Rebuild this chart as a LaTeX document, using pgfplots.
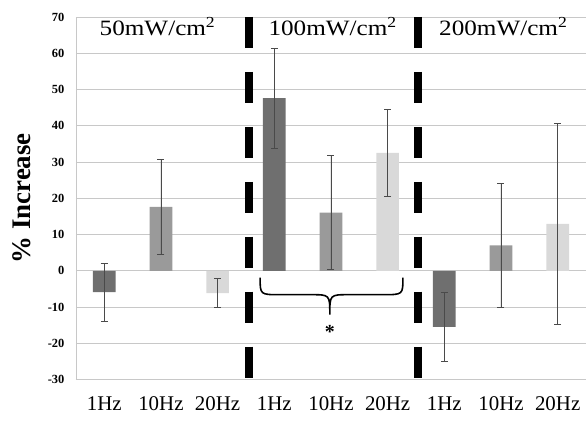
\documentclass[border=0pt]{standalone}
\usepackage{pgfplots}
\pgfplotsset{compat=1.18}
\usepackage{fontspec}
\setmainfont{Liberation Serif}
\newfontfamily\titlefont[FakeStretch=1.15]{Liberation Serif}

\definecolor{barA}{HTML}{6F6F6F}
\definecolor{barB}{HTML}{9A9A9A}
\definecolor{barC}{HTML}{D9D9D9}
\definecolor{errc}{HTML}{4A4A4A}
\definecolor{gridc}{HTML}{C8C8C8}

\begin{document}
\begin{tikzpicture}
\path[use as bounding box] (-76bp,-41bp) rectangle (510.75bp,380bp);
\begin{axis}[
	scale only axis,
	width=510.75bp, height=363bp,
	xmin=-0.5, xmax=8.5,
	ymin=-30, ymax=70,
	axis x line*=bottom, axis y line*=left,
	axis line style={gridc, line width=0.8pt},
	ymajorgrids, major grid style={gridc, line width=0.8pt},
	major tick length=0pt,
	xtick={0,...,8},
	xticklabels={1Hz,10Hz,20Hz,1Hz,10Hz,20Hz,1Hz,10Hz,20Hz},
	xticklabel style={font=\fontsize{21}{21}\selectfont, yshift=-14bp},
	ytick={-30,-20,...,70},
	yticklabels={-30,-20,-10,0,10,20,30,40,50,60,70},
	yticklabel style={font=\bfseries\fontsize{12.5}{12.5}\selectfont, xshift=-8bp},
	ylabel={\% Increase},
	ylabel style={at={(axis description cs:-0.106,0.5)}, anchor=center, rotate=0,
		font=\bfseries\fontsize{27}{27}\selectfont},
	ybar, bar width=0.4, bar shift=0pt,
	clip=false,
]
% 1 Hz
\addplot[fill=barA, draw=none,
	error bars/.cd, y dir=both, y explicit,
	error bar style={errc, line width=0.7pt},
	error mark options={rotate=90, mark size=3.5bp, errc, line width=0.7pt}]
	coordinates {(0,-5.9) +- (0,8) (3,47.6) +- (0,13.75) (6,-15.5) +- (0,9.5)};
% 10 Hz
\addplot[fill=barB, draw=none,
	error bars/.cd, y dir=both, y explicit,
	error bar style={errc, line width=0.7pt},
	error mark options={rotate=90, mark size=3.5bp, errc, line width=0.7pt}]
	coordinates {(1,17.6) +- (0,13.1) (4,16) +- (0,15.7) (7,7) +- (0,17)};
% 20 Hz
\addplot[fill=barC, draw=none,
	error bars/.cd, y dir=both, y explicit,
	error bar style={errc, line width=0.7pt},
	error mark options={rotate=90, mark size=3.5bp, errc, line width=0.7pt}]
	coordinates {(2,-6.2) +- (0,4) (5,32.5) +- (0,12.1) (8,12.9) +- (0,27.8)};

% group separators
\draw[black, line width=8bp, dash pattern=on 31bp off 24bp] (axis cs:2.55,70) -- (axis cs:2.55,-30);
\draw[black, line width=8bp, dash pattern=on 31bp off 24bp] (axis cs:5.54,70) -- (axis cs:5.54,-30);

% group titles
\node[anchor=base, font=\titlefont\fontsize{22}{22}\selectfont] at (axis cs:0.94,65) {50mW/cm\textsuperscript{2}};
\node[anchor=base, font=\titlefont\fontsize{22}{22}\selectfont] at (axis cs:4.03,65) {100mW/cm\textsuperscript{2}};
\node[anchor=base, font=\titlefont\fontsize{22}{22}\selectfont] at (axis cs:7.04,65) {200mW/cm\textsuperscript{2}};

% brace and significance mark
\draw[black, line width=1.6pt]
	(axis cs:2.75,-1.9) .. controls (axis cs:2.75,-6.6) .. (axis cs:3.1,-6.6)
	-- (axis cs:3.65,-6.6) .. controls (axis cs:3.98,-6.6) .. (axis cs:3.98,-12.1)
	.. controls (axis cs:3.98,-6.6) .. (axis cs:4.31,-6.6)
	-- (axis cs:4.92,-6.6) .. controls (axis cs:5.27,-6.6) .. (axis cs:5.27,-1.9);
\node[font=\bfseries\fontsize{20}{20}\selectfont] at (axis cs:3.98,-17) {*};
\end{axis}
\end{tikzpicture}
\end{document}
